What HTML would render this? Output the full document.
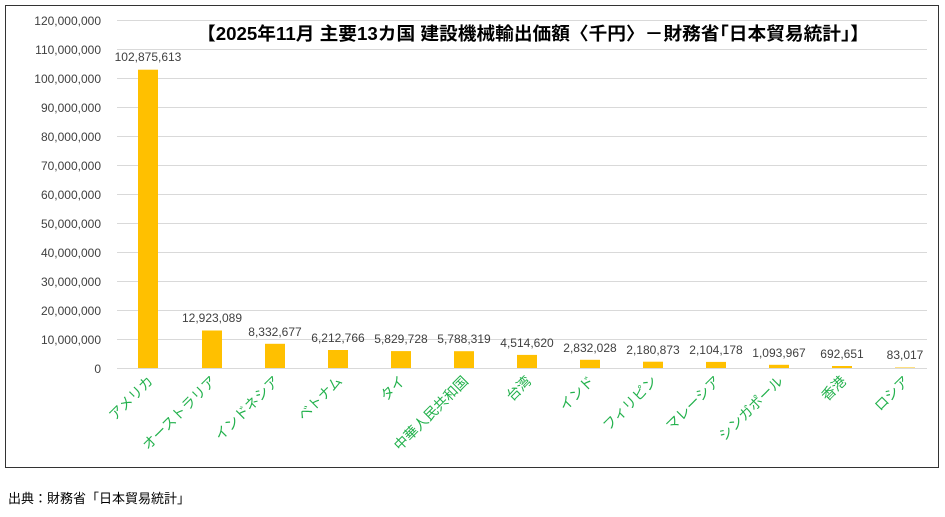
<!DOCTYPE html>
<html><head><meta charset="utf-8"><style>
body{margin:0;background:#fff;width:945px;height:512px;overflow:hidden}
</style></head><body>
<svg width="945" height="512" xmlns="http://www.w3.org/2000/svg" font-family="'Liberation Sans','Noto Sans CJK JP',sans-serif">
<rect x="5.5" y="5.5" width="933" height="462" fill="#fff" stroke="#333" stroke-width="1"/>
<g stroke="#d9d9d9" stroke-width="1">
<line x1="117" x2="927" y1="368.5" y2="368.5"/><line x1="117" x2="927" y1="339.5" y2="339.5"/><line x1="117" x2="927" y1="310.5" y2="310.5"/><line x1="117" x2="927" y1="281.5" y2="281.5"/><line x1="117" x2="927" y1="252.5" y2="252.5"/><line x1="117" x2="927" y1="223.5" y2="223.5"/><line x1="117" x2="927" y1="194.5" y2="194.5"/><line x1="117" x2="927" y1="165.5" y2="165.5"/><line x1="117" x2="927" y1="136.5" y2="136.5"/><line x1="117" x2="927" y1="107.5" y2="107.5"/><line x1="117" x2="927" y1="78.5" y2="78.5"/><line x1="117" x2="927" y1="49.5" y2="49.5"/><line x1="117" x2="927" y1="20.5" y2="20.5"/>
</g>
<g font-size="12" fill="#404040" text-anchor="end">
<text x="101" y="373">0</text><text x="101" y="344">10,000,000</text><text x="101" y="315">20,000,000</text><text x="101" y="286">30,000,000</text><text x="101" y="257">40,000,000</text><text x="101" y="228">50,000,000</text><text x="101" y="199">60,000,000</text><text x="101" y="170">70,000,000</text><text x="101" y="141">80,000,000</text><text x="101" y="112">90,000,000</text><text x="101" y="83">100,000,000</text><text x="101" y="54">110,000,000</text><text x="101" y="25">120,000,000</text>
</g>
<g fill="#ffc000">
<rect x="138" y="69.7" width="20" height="298.3"/>
<rect x="202" y="330.5" width="20" height="37.5"/>
<rect x="265" y="343.8" width="20" height="24.2"/>
<rect x="328" y="350" width="20" height="18"/>
<rect x="391" y="351.1" width="20" height="16.9"/>
<rect x="454" y="351.2" width="20" height="16.8"/>
<rect x="517" y="354.9" width="20" height="13.1"/>
<rect x="580" y="359.8" width="20" height="8.2"/>
<rect x="643" y="361.7" width="20" height="6.3"/>
<rect x="706" y="361.9" width="20" height="6.1"/>
<rect x="769" y="364.8" width="20" height="3.2"/>
<rect x="832" y="366" width="20" height="2"/>
<rect x="895" y="367.5" width="20" height="0.5"/>
</g>
<g font-size="12" fill="#404040" text-anchor="middle">
<text x="148" y="61">102,875,613</text><text x="212" y="322">12,923,089</text><text x="275" y="336">8,332,677</text><text x="338" y="342">6,212,766</text><text x="401" y="343">5,829,728</text><text x="464" y="343">5,788,319</text><text x="527" y="347">4,514,620</text><text x="590" y="352">2,832,028</text><text x="653" y="354">2,180,873</text><text x="716" y="354">2,104,178</text><text x="779" y="357">1,093,967</text><text x="842" y="358">692,651</text><text x="905" y="359">83,017</text>
</g>
<g font-size="14" fill="#22b14c" text-anchor="end">
<text transform="translate(154,382) rotate(-45)">アメリカ</text>
<text transform="translate(217,382) rotate(-45)">オーストラリア</text>
<text transform="translate(280,382) rotate(-45)">インドネシア</text>
<text transform="translate(343,382) rotate(-45)">ベトナム</text>
<text transform="translate(406,382) rotate(-45)">タイ</text>
<text transform="translate(469,382) rotate(-45)">中華人民共和国</text>
<text transform="translate(532,382) rotate(-45)">台湾</text>
<text transform="translate(595,382) rotate(-45)">インド</text>
<text transform="translate(658,382) rotate(-45)">フィリピン</text>
<text transform="translate(721,382) rotate(-45)">マレーシア</text>
<text transform="translate(784,382) rotate(-45)">シンガポール</text>
<text transform="translate(847,382) rotate(-45)">香港</text>
<text transform="translate(910,382) rotate(-45)">ロシア</text>
</g>
<text x="533" y="40" font-size="18" font-weight="bold" fill="#000" text-anchor="middle" textLength="672" lengthAdjust="spacingAndGlyphs">【2025年11月 主要13カ国 建設機械輸出価額〈千円〉－財務省｢日本貿易統計｣】</text>
<text x="8" y="503" font-size="13" fill="#000">出典：財務省「日本貿易統計」</text>
</svg>
</body></html>
